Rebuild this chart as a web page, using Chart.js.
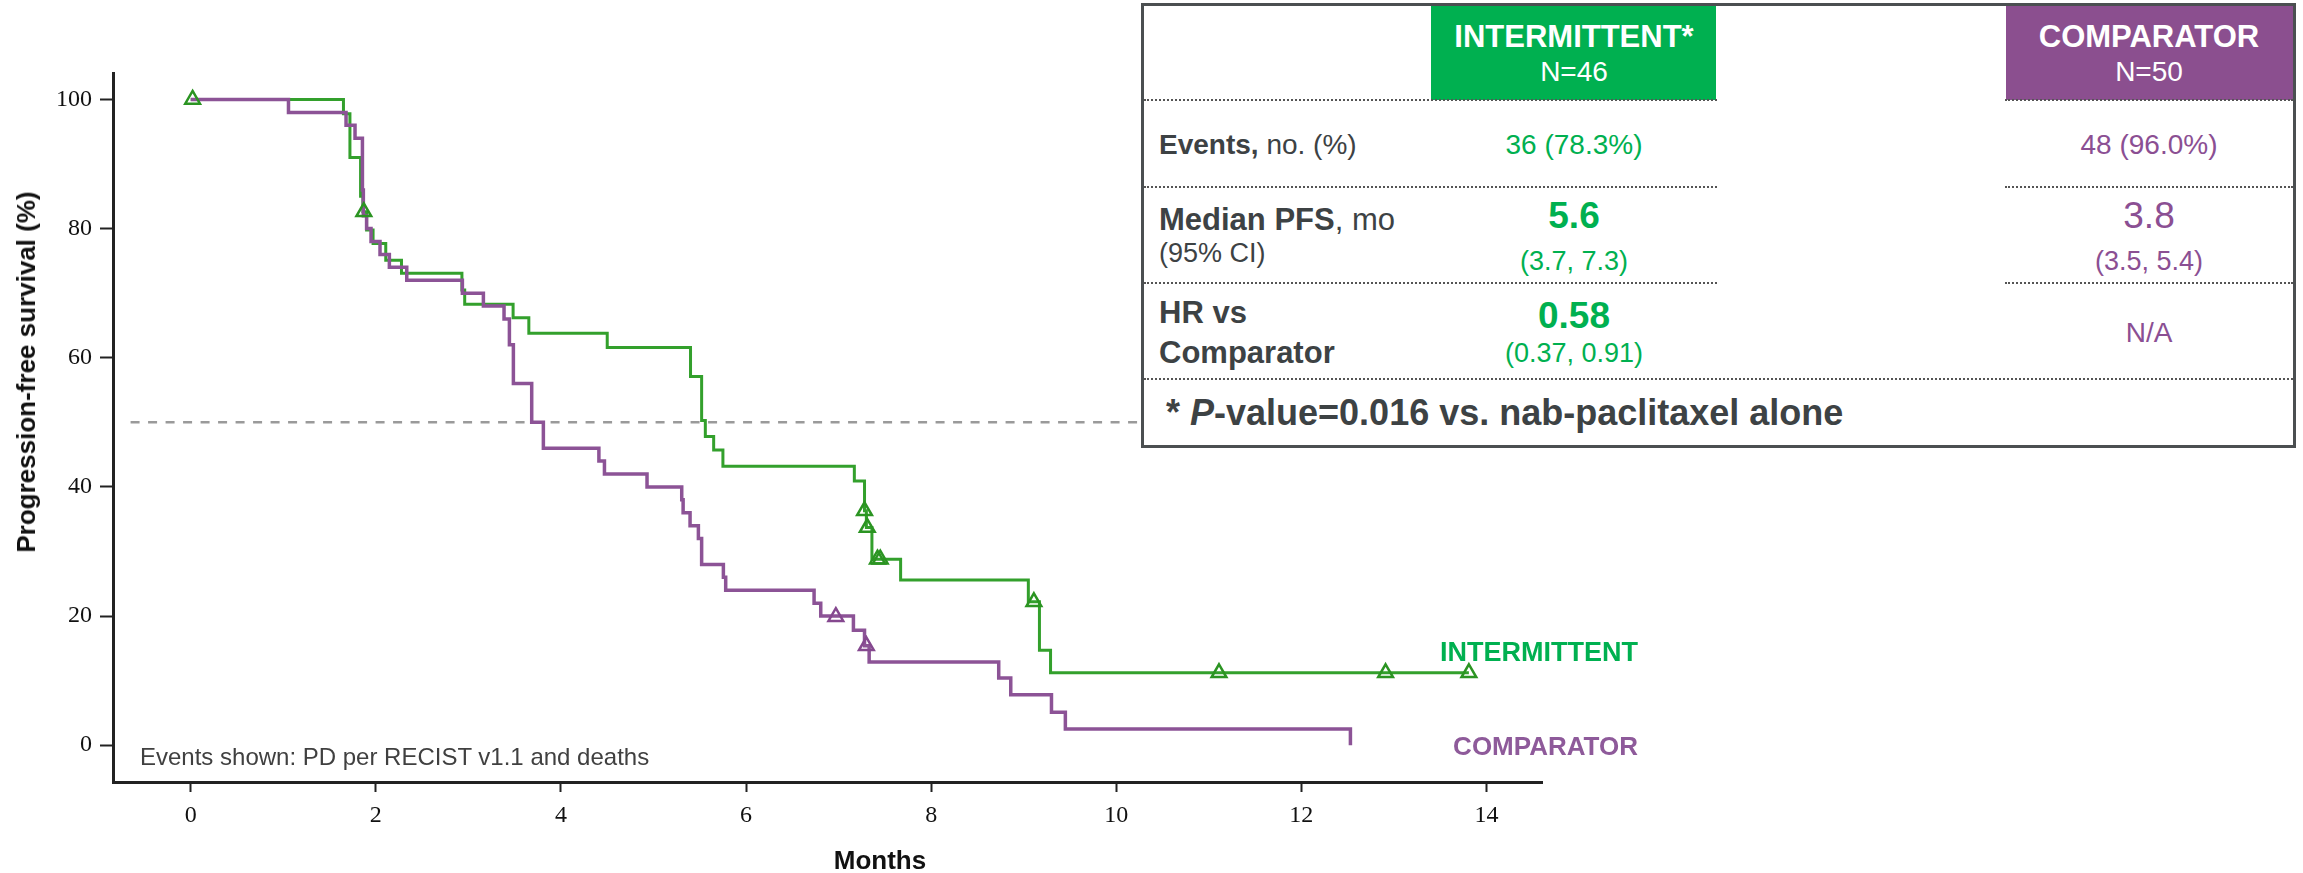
<!DOCTYPE html>
<html>
<head>
<meta charset="utf-8">
<script src="https://cdn.jsdelivr.net/npm/chart.js@4.4.1/dist/chart.umd.min.js"></script>
<style>
  html, body { margin: 0; padding: 0; background: #fff; }
  #wrap { position: relative; width: 2303px; height: 873px; overflow: hidden; font-family: 'Liberation Sans', Arial, sans-serif; }
  #chartBox { position: absolute; left: 0; top: 0; width: 2303px; height: 873px; z-index: 0; }
  .t { position: absolute; white-space: nowrap; z-index: 3; }
  .box { position: absolute; left: 1141px; top: 3px; width: 1155px; height: 445px; box-sizing: border-box; border: 3px solid #4b4f51; background: #fff; z-index: 1; }
  .hdr { position: absolute; top: 6px; height: 94px; z-index: 2; }
  .dots { position: absolute; height: 0; border-top: 2px dotted #555; z-index: 2; }
</style>
</head>
<body>
<div id="wrap">
  <div id="chartBox"><canvas id="km"></canvas></div>
</div>
<script>
// Kaplan-Meier steps (months, % progression-free)
const intTimes = [0, 1.65, 1.72, 1.835, 1.86, 1.90, 1.97, 2.107, 2.277, 2.93, 2.96, 3.483, 3.653, 4.5, 5.40, 5.52, 5.56, 5.65, 5.75, 7.17, 7.28, 7.30, 7.36, 7.67, 9.05, 9.17, 9.29, 13.81];
const intSurv  = [100, 97.8, 91.0, 85.0, 82.6, 79.8, 77.7, 75.1, 73.1, 70.5, 68.3, 66.2, 63.8, 61.6, 57.1, 50.3, 47.8, 45.7, 43.2, 40.9, 36.3, 33.7, 28.8, 25.6, 22.2, 14.7, 11.2, 11.2];
const intCensorTimes = [0.02, 1.87, 7.28, 7.31, 7.42, 7.45, 9.11, 11.11, 12.91, 13.81];
const intCensorSurv  = [100, 82.6, 36.3, 33.7, 28.8, 28.8, 22.2, 11.2, 11.2, 11.2];

const compTimes = [0, 1.056, 1.678, 1.775, 1.855, 1.865, 1.90, 1.948, 2.045, 2.146, 2.334, 2.935, 3.162, 3.385, 3.443, 3.486, 3.684, 3.81, 4.41, 4.47, 4.93, 5.305, 5.32, 5.395, 5.485, 5.52, 5.755, 5.78, 6.735, 6.807, 7.16, 7.28, 7.33, 8.73, 8.86, 9.30, 9.45, 12.53];
const compSurv  = [100, 98, 96, 94, 86, 82, 80, 78, 76, 74, 72, 70, 68, 66, 62, 56, 50, 46, 44, 42, 40, 38, 36, 34, 32, 28, 26, 24, 22, 20, 17.8, 15.4, 12.9, 10.4, 7.8, 5.1, 2.5, 0];
const compCensorTimes = [6.97, 7.30];
const compCensorSurv  = [19.9, 15.4];

const xTicks = [0, 2, 4, 6, 8, 10, 12, 14];
const yTicks = [0, 20, 40, 60, 80, 100];
const medianLevel = 50;
const medianSpan = [-0.65, 14.6];

// summary table text
const armNames = ['INTERMITTENT*', 'COMPARATOR'];
const armN = ['N=46', 'N=50'];
const intStats = ['36 (78.3%)', '5.6', '(3.7, 7.3)', '0.58', '(0.37, 0.91)'];
const compStats = ['48 (96.0%)', '3.8', '(3.5, 5.4)', 'N/A'];

const GREEN = '#33a02c', GREEN_TXT = '#00b050', PURPLE = '#8c5396', PURPLE_TXT = '#8b4f93', GRAY = '#3d4244';

function pts(xs, ys) { return xs.map((x, i) => ({ x: x, y: ys[i] })); }

new Chart(document.getElementById('km'), {
  type: 'line',
  data: {
    datasets: [
      {
        data: pts(intCensorTimes, intCensorSurv), showLine: false, order: 0,
        pointStyle: 'triangle', pointRadius: 8.5, pointBorderWidth: 2.5,
        pointBorderColor: '#2b9422', pointBackgroundColor: 'rgba(0,0,0,0)'
      },
      {
        data: pts(compCensorTimes, compCensorSurv), showLine: false, order: 0,
        pointStyle: 'triangle', pointRadius: 8.5, pointBorderWidth: 2.5,
        pointBorderColor: '#85488f', pointBackgroundColor: 'rgba(0,0,0,0)'
      },
      {
        data: pts(compTimes, compSurv), stepped: 'before', order: 1,
        borderColor: PURPLE, borderWidth: 3.5, pointRadius: 0, fill: false
      },
      {
        data: pts(intTimes, intSurv), stepped: 'before', order: 2,
        borderColor: GREEN, borderWidth: 3, pointRadius: 0, fill: false
      },
      {
        data: medianSpan.map(x => ({ x: x, y: medianLevel })), order: 3,
        borderColor: '#9a9a9a', borderWidth: 2.5, borderDash: [9, 8.5], pointRadius: 0, fill: false
      }
    ]
  },
  options: {
    responsive: true,
    maintainAspectRatio: false,
    animation: false,
    layout: { padding: { top: 73, right: 761, left: 0, bottom: 0 } },
    plugins: { legend: { display: false }, tooltip: { enabled: false } },
    scales: {
      x: {
        type: 'linear', position: 'bottom', min: -0.84, max: 14.6,
        afterFit: s => { s.height = 91; },
        afterBuildTicks: s => { s.ticks = xTicks.map(v => ({ value: v })); },
        grid: { drawOnChartArea: false, drawTicks: true, tickLength: 10, tickWidth: 2, tickColor: '#222' },
        border: { display: true, color: '#222', width: 3 },
        ticks: { font: { family: 'Liberation Serif', size: 24 }, color: '#111', padding: 9 }
      },
      y: {
        type: 'linear', min: -5.7, max: 104.1,
        afterFit: s => { s.width = 113; },
        afterBuildTicks: s => { s.ticks = yTicks.map(v => ({ value: v })); },
        grid: { drawOnChartArea: false, drawTicks: true, tickLength: 13, tickWidth: 2, tickColor: '#222' },
        border: { display: true, color: '#222', width: 3 },
        ticks: { font: { family: 'Liberation Serif', size: 24 }, color: '#111', padding: 8 }
      }
    }
  }
});

const wrap = document.getElementById('wrap');
function el(cls, css) {
  const d = document.createElement('div');
  d.className = cls;
  d.style.cssText = css;
  wrap.appendChild(d);
  return d;
}
// text placed by its cap-height centre
function txt(html, x, cy, size, color, align) {
  const d = el('t', 'top:' + (cy - 0.49 * size) + 'px;font-size:' + size + 'px;line-height:' + size + 'px;color:' + color + ';');
  if (align === 'center') { d.style.left = x + 'px'; d.style.transform = 'translateX(-50%)'; }
  else if (align === 'right') { d.style.right = (2303 - x) + 'px'; }
  else { d.style.left = x + 'px'; }
  d.innerHTML = html;
  return d;
}

// axis titles and in-plot labels
txt('<b>Months</b>', 880, 860, 26, '#111', 'center');
const yt = el('t', 'left:26px;top:372px;font-size:26px;line-height:26px;color:#111;font-weight:bold;transform:translate(-50%,-50%) rotate(-90deg);');
yt.textContent = 'Progression-free survival (%)';
txt('Events shown: PD per RECIST v1.1 and deaths', 140, 757, 24, '#404040');
txt('<b>INTERMITTENT</b>', 1638, 652, 27, GREEN_TXT, 'right');
txt('<b>COMPARATOR</b>', 1638, 746, 26, '#8e5a9a', 'right');

// summary box
el('box', '');
el('hdr', 'left:1431px;width:285px;background:#00b050;');
el('hdr', 'left:2006px;width:287px;background:#8b4f8f;');
function dots(x1, x2, y) { el('dots', 'left:' + x1 + 'px;top:' + (y - 1) + 'px;width:' + (x2 - x1) + 'px;'); }
[100, 187, 283].forEach(y => { dots(1144, 1717, y); dots(2005, 2293, y); });
dots(1144, 2293, 379);

const c1 = 1574, c2 = 2149;
txt('<b>' + armNames[0] + '</b>', c1, 36, 31, '#fff', 'center');
txt(armN[0], c1, 72, 28, '#fff', 'center');
txt('<b>' + armNames[1] + '</b>', c2, 36, 31, '#fff', 'center');
txt(armN[1], c2, 72, 28, '#fff', 'center');

txt('<b>Events,</b> no. (%)', 1159, 145, 28, GRAY);
txt(intStats[0], c1, 145, 28, GREEN_TXT, 'center');
txt(compStats[0], c2, 145, 28, PURPLE_TXT, 'center');

txt('<b>Median PFS</b>, mo', 1159, 219, 31, GRAY);
txt('(95% CI)', 1159, 253, 27, GRAY);
txt('<b>' + intStats[1] + '</b>', c1, 215, 37, GREEN_TXT, 'center');
txt(intStats[2], c1, 261, 27, GREEN_TXT, 'center');
txt(compStats[1], c2, 215, 37, PURPLE_TXT, 'center');
txt(compStats[2], c2, 261, 27, PURPLE_TXT, 'center');

txt('<b>HR vs</b>', 1159, 312, 31, GRAY);
txt('<b>Comparator</b>', 1159, 352, 31, GRAY);
txt('<b>' + intStats[3] + '</b>', c1, 315, 37, GREEN_TXT, 'center');
txt(intStats[4], c1, 353, 27, GREEN_TXT, 'center');
txt(compStats[3], c2, 333, 28, PURPLE_TXT, 'center');

txt('<b>* <i>P</i>-value=0.016 vs. nab-paclitaxel alone</b>', 1166, 413, 36, GRAY);
</script>
</body>
</html>
